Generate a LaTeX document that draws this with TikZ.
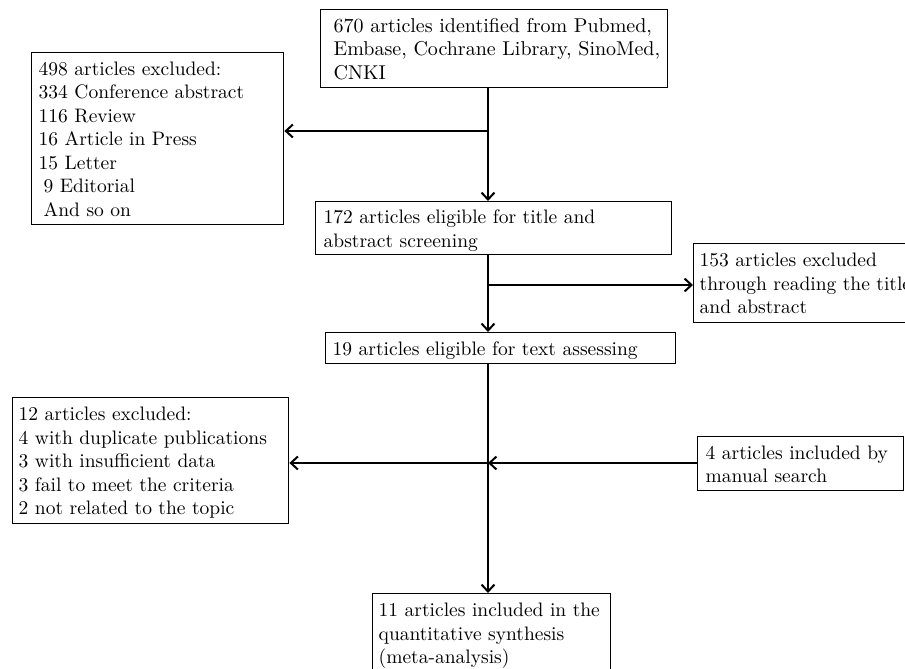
\documentclass[tikz,border=0pt]{standalone}
\usepackage{fontspec}
\setmainfont{lmroman10-regular.otf}
\usetikzlibrary{arrows.meta}
\newcommand{\mystrut}{\rule[-4.5pt]{0pt}{23.5pt}}
\newcommand{\mylines}[2]{\makebox[#1][l]{\renewcommand{\arraystretch}{0}\begin{tabular}{@{}l@{}}#2\end{tabular}}}
\tikzset{
  box/.style={draw=black, line width=1.4pt, anchor=north west, inner ysep=0pt, rectangle},
  conn/.style={line width=2pt, -{Straight Barb[length=7pt,width=13pt]}}
}
\begin{document}
\begin{tikzpicture}[x=1pt,y=-1pt,font=\fontsize{19.5pt}{23.5pt}\selectfont]
\useasboundingbox (0,0) rectangle (905,669);
\clip (0,0) rectangle (905,669);

\node[box, inner xsep=13pt, minimum width=347pt, minimum height=78pt, font=\fontsize{20pt}{23.5pt}\selectfont] (n1) at (320,9)
  {\mylines{321pt}{\mystrut 670 articles identified from Pubmed,\\ \mystrut Embase, Cochrane Library, SinoMed,\\ \mystrut CNKI}};

\node[box, inner xsep=7pt, minimum width=252pt, minimum height=172pt] (ex1) at (31,52)
  {\mylines{238pt}{\mystrut 498 articles excluded:\\ \mystrut 334 Conference abstract\\ \mystrut 116 Review\\ \mystrut 16 Article in Press\\ \mystrut 15 Letter\\ \mystrut\hspace{5pt}9 Editorial\\ \mystrut\hspace{5pt}And so on}};

\node[box, inner xsep=8pt, minimum width=356pt, minimum height=53pt] (n172) at (315,201)
  {\mylines{340pt}{\mystrut 172 articles eligible for title and\\ \mystrut abstract screening}};

\node[box, inner xsep=6pt, minimum width=232pt, minimum height=79pt] (n153) at (693,243)
  {\mylines{220pt}{\mystrut 153 articles excluded\\ \mystrut through reading the title\\ \mystrut and abstract}};

\node[box, inner xsep=7pt, minimum width=350pt, minimum height=31pt] (n19) at (325,332)
  {\mylines{336pt}{\mystrut 19 articles eligible for text assessing}};

\node[box, inner xsep=6pt, minimum width=276pt, minimum height=126pt] (ex2) at (12,397)
  {\mylines{264pt}{\mystrut 12 articles excluded:\\ \mystrut 4 with duplicate publications\\ \mystrut 3 with insufficient data\\ \mystrut 3 fail to meet the criteria\\ \mystrut 2 not related to the topic}};

\node[box, inner xsep=8pt, minimum width=206pt, minimum height=54pt] (n4) at (697,436)
  {\mylines{190pt}{\mystrut 4 articles included by\\ \mystrut manual search}};

\node[box, inner xsep=6pt, minimum width=238pt, minimum height=79pt] (n11) at (372,593)
  {\mylines{226pt}{\mystrut 11 articles included in the\\ \mystrut quantitative synthesis\\ \mystrut (meta-analysis)}};

\coordinate (sp) at (488,0);
\coordinate (b1) at (488,131);
\coordinate (b2) at (488,285);
\coordinate (b3) at (488,463);

\draw[conn] (n1.south -| sp) -- (n172.north -| sp);
\draw[conn] (b1) -- (b1 -| ex1.east);
\draw[conn] (n172.south -| sp) -- (n19.north -| sp);
\draw[conn] (b2) -- (b2 -| n153.west);
\draw[conn] (n19.south -| sp) -- (n11.north -| sp);
\draw[conn] (b3) -- (b3 -| ex2.east);
\draw[conn] (b3 -| n4.west) -- (b3);
\end{tikzpicture}
\end{document}
